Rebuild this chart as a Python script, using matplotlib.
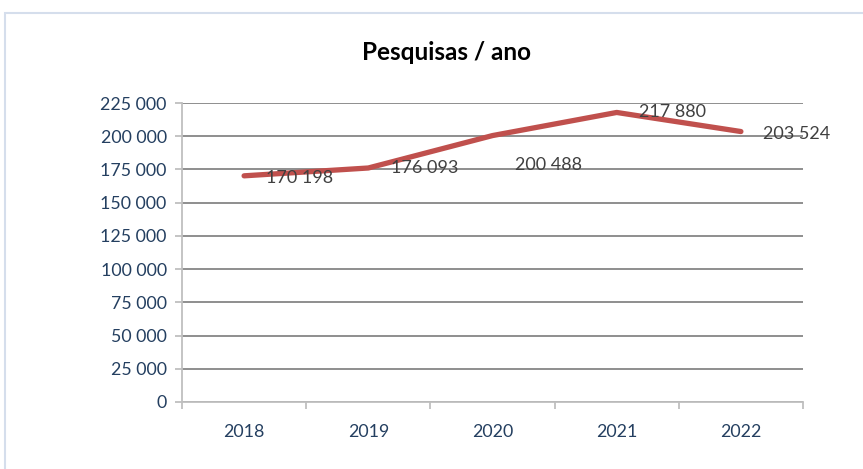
import matplotlib
matplotlib.use("Agg")
import matplotlib.pyplot as plt
from matplotlib.patches import Rectangle
from matplotlib.ticker import FuncFormatter, MultipleLocator

years = ["2018", "2019", "2020", "2021", "2022"]
values = [170198, 176093, 200488, 217880, 203524]
labels = ["170 198", "176 093", "200 488", "217 880", "203 524"]
label_dy = [-2, 0, -29, 0, -2]  # pixel offsets of the data labels

plt.rcParams['font.family'] = ['Lato', 'DejaVu Sans']

W, H = 863, 469
fig = plt.figure(figsize=(W / 100, H / 100), dpi=100)

# outer chart border
fig.patches.append(Rectangle((5 / W, -0.1), 1.2, 1 - 13 / H + 0.1,
                             transform=fig.transFigure, fill=False,
                             edgecolor='#D5DEEC', linewidth=1.5))

ax = fig.add_axes([182 / W, 1 - 402 / H, (803 - 182) / W, (402 - 103) / H])
x = list(range(len(years)))
ax.plot(x, values, color='#C0504D', linewidth=3.8, solid_capstyle='round',
        solid_joinstyle='round', zorder=3)

for xi, v, lab, dy in zip(x, values, labels, label_dy):
    ax.annotate(lab, (xi, v), xytext=(16, dy * 0.72), textcoords='offset points',
                ha='left', va='center', fontsize=13, color='#404040', zorder=4)

ax.set_xlim(-0.5, 4.5)
ax.set_ylim(0, 225000)
ax.yaxis.set_major_locator(MultipleLocator(25000))
ax.yaxis.set_major_formatter(FuncFormatter(lambda v, p: f"{int(v):,}".replace(",", " ")))
ax.set_xticks(x)
ax.set_xticklabels(years)
ax.set_xticks([i - 0.5 for i in range(len(years) + 1)], minor=True)

ax.grid(axis='y', color='#868686', linewidth=1.3)
ax.set_axisbelow(True)
for s in ['top', 'right']:
    ax.spines[s].set_visible(False)
for s in ['left', 'bottom']:
    ax.spines[s].set_color('#BFBFBF')
    ax.spines[s].set_linewidth(1.3)

ax.tick_params(axis='y', colors='#BFBFBF', labelcolor='#243F60', labelsize=12.8,
               length=5, width=1.3, pad=6)
ax.tick_params(axis='x', which='major', length=0, labelcolor='#243F60',
               labelsize=12.8, pad=16)
ax.tick_params(axis='x', which='minor', length=5, width=1.3, colors='#BFBFBF')

fig.text(446 / W, 1 - 52 / H, "Pesquisas / ano", ha='center', va='center',
         fontsize=17.5, fontweight='bold', color='black')

fig.savefig("out.png", dpi=100)
